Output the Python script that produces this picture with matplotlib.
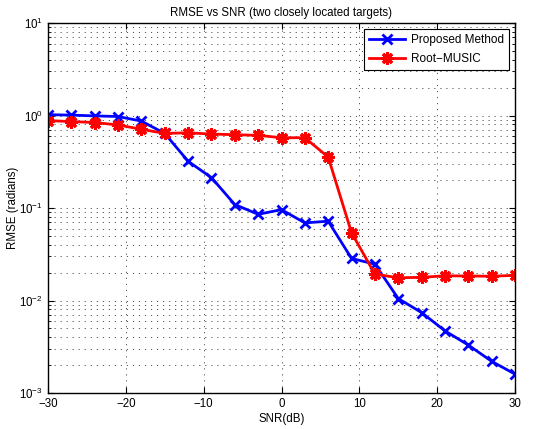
import matplotlib
matplotlib.use("Agg")
import matplotlib.pyplot as plt
from matplotlib.ticker import LogLocator, NullFormatter

plt.rcParams['font.family'] = ['Liberation Sans', 'DejaVu Sans']
plt.rcParams['mathtext.fontset'] = 'custom'
plt.rcParams['mathtext.rm'] = 'Liberation Sans'

snr = [-30, -27, -24, -21, -18, -15, -12, -9, -6, -3, 0, 3, 6, 9, 12, 15, 18, 21, 24, 27, 30]
proposed = [1.02, 1.01, 0.99, 0.975, 0.87, 0.64, 0.32, 0.213, 0.109, 0.0855, 0.096,
            0.069, 0.072, 0.0285, 0.0247, 0.0105, 0.0074, 0.0047, 0.0033, 0.0022, 0.0016]
root_music = [0.88, 0.86, 0.84, 0.79, 0.71, 0.64, 0.65, 0.63, 0.62, 0.61, 0.575,
              0.575, 0.355, 0.054, 0.0193, 0.0176, 0.0178, 0.0185, 0.0184, 0.0183, 0.0187]
xticks = [-30, -20, -10, 0, 10, 20, 30]

fig = plt.figure(figsize=(5.34, 4.29), dpi=100)
ax = fig.add_axes([48/534, 1-393/429, (515-48)/534, (393-23)/429])

ax.plot(snr, proposed, color='blue', lw=2, marker='x', ms=7, mew=2, label='Proposed Method')
ax.plot(snr, root_music, color='red', lw=2, marker=(8, 2, 0), ms=9, mew=2.2, label='Root\u2212MUSIC')

ax.set_yscale('log')
ax.set_xlim(-30, 30)
ax.set_ylim(1e-3, 1e1)
ax.set_xticks(xticks)
ax.yaxis.set_major_locator(LogLocator(base=10, numticks=10))
ax.yaxis.set_minor_locator(LogLocator(base=10, subs=range(2, 10), numticks=20))
ax.yaxis.set_minor_formatter(NullFormatter())

grid_style = dict(linestyle=(0, (1.2, 5)), color='#555555', lw=0.7)
ax.grid(True, which='major', axis='both', **grid_style)
ax.grid(True, which='minor', axis='y', **grid_style)

ax.tick_params(which='both', direction='in', top=True, right=True, labelsize=8.3)
ax.tick_params(which='major', length=4)
ax.tick_params(which='minor', length=2)
for s in ax.spines.values():
    s.set_linewidth(1.0)

ax.set_title('RMSE vs SNR (two closely located targets)', fontsize=8.3, pad=5)
ax.set_xlabel('SNR(dB)', fontsize=8.3, labelpad=2)
ax.set_ylabel('RMSE (radians)', fontsize=8.3)
ax.yaxis.set_label_coords(-29/467, 0.5)

leg = ax.legend(loc='upper right', fontsize=8.5, fancybox=False, framealpha=1,
                edgecolor='black', borderaxespad=0.5, handlelength=3.0,
                handletextpad=0.5, borderpad=0.45, labelspacing=0.55)
leg.get_frame().set_linewidth(0.8)

fig.savefig('out.png', dpi=100)
